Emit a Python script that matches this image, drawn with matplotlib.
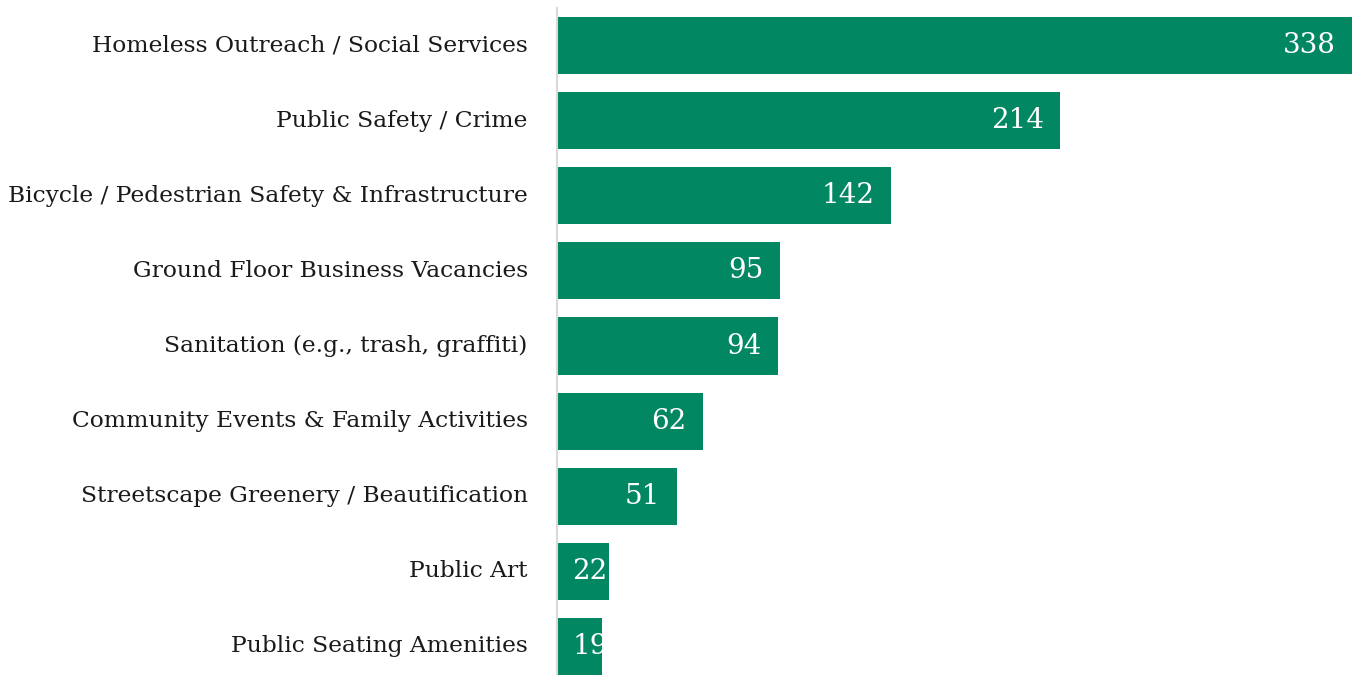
import matplotlib
matplotlib.use('Agg')
import matplotlib.pyplot as plt

plt.rcParams['font.family'] = ['DejaVu Serif']

# Responses per topic, top to bottom
TOPICS = [
    'Homeless Outreach / Social Services',
    'Public Safety / Crime',
    'Bicycle / Pedestrian Safety & Infrastructure',
    'Ground Floor Business Vacancies',
    'Sanitation (e.g., trash, graffiti)',
    'Community Events & Family Activities',
    'Streetscape Greenery / Beautification',
    'Public Art',
    'Public Seating Amenities',
]
COUNTS = [338, 214, 142, 95, 94, 62, 51, 22, 19]

GREEN = '#028763'

fig = plt.figure(figsize=(13.56, 6.75), dpi=100)
ax = fig.add_axes([557 / 1356, 0, 1 - 557 / 1356, 1 - 8 / 675])

pos = list(range(len(TOPICS)))
ax.barh(pos, COUNTS, height=0.76, color=GREEN)
ax.set_yticks(pos)
ax.set_yticklabels(TOPICS, fontsize=16.8, color='#1a1a1a', va='center')
ax.tick_params(axis='y', length=0, pad=21)
ax.set_xticks([])
ax.set_xlim(0, 339.7)
ax.set_ylim(len(TOPICS) - 1 + 0.38, -0.5)

for s in ('top', 'right', 'bottom'):
    ax.spines[s].set_visible(False)
ax.spines['left'].set_color('#d9d9d9')
ax.spines['left'].set_linewidth(1.5)

# values inside bar ends; short bars get the label pinned near the axis
for y, v in zip(pos, COUNTS):
    if v < 30:
        ax.annotate(str(v), (0, y), xytext=(11, 0), textcoords='offset points',
                    ha='left', va='center', color='white', fontsize=20)
    else:
        ax.annotate(str(v), (v, y), xytext=(-12, 0), textcoords='offset points',
                    ha='right', va='center', color='white', fontsize=20)

fig.savefig('out.png', dpi=100)
